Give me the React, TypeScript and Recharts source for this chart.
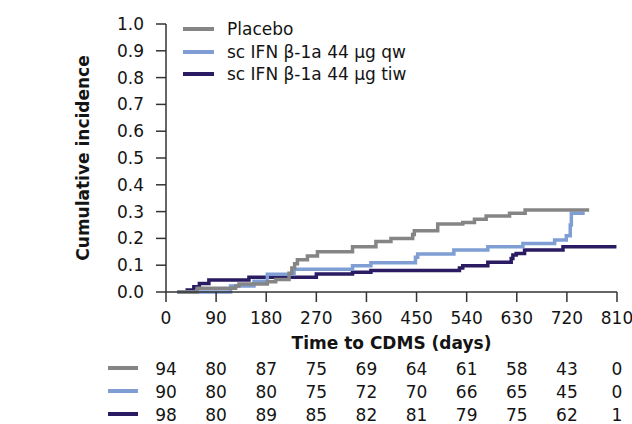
import { ComposedChart, Label, Legend, Line, XAxis, YAxis } from "recharts";

const dayTicks = [0, 90, 180, 270, 360, 450, 540, 630, 720, 810];
const incidenceTicks = [0, 0.1, 0.2, 0.3, 0.4, 0.5, 0.6, 0.7, 0.8, 0.9, 1.0];

// step points (day, cumulative incidence)
const placeboDays = [20, 56, 125, 131, 182, 197, 221, 226, 231, 236, 254, 272, 335, 377, 404, 443, 446, 488, 533, 554, 575, 617, 645, 760];
const placeboIncidence = [0, 0.014, 0.022, 0.03, 0.038, 0.047, 0.07, 0.09, 0.105, 0.12, 0.134, 0.15, 0.169, 0.188, 0.2, 0.215, 0.229, 0.254, 0.259, 0.271, 0.284, 0.294, 0.306, 0.306];

const qwDays = [20, 116, 158, 182, 230, 335, 368, 448, 452, 517, 578, 641, 698, 719, 726, 728, 752];
const qwIncidence = [0, 0.022, 0.04, 0.066, 0.085, 0.098, 0.109, 0.13, 0.142, 0.157, 0.169, 0.181, 0.194, 0.21, 0.25, 0.294, 0.294];

const tiwDays = [35, 50, 60, 77, 149, 270, 335, 368, 527, 533, 578, 620, 623, 629, 644, 713, 809];
const tiwIncidence = [0.007, 0.02, 0.032, 0.045, 0.055, 0.067, 0.074, 0.08, 0.09, 0.098, 0.111, 0.125, 0.138, 0.144, 0.157, 0.169, 0.169];

const placeboAtRisk = [94, 80, 87, 75, 69, 64, 61, 58, 43, 0];
const qwAtRisk = [90, 80, 80, 75, 72, 70, 66, 65, 45, 0];
const tiwAtRisk = [98, 80, 89, 85, 82, 81, 79, 75, 62, 1];

const GRAY = "#858585";
const LIGHT = "#7f9fd4";
const NAVY = "#2a1b62";
const INK = "#141414";
const AXIS = "#333333";
const FONT = "'DejaVu Sans', Verdana, sans-serif";

const series = [
  { key: "tiw", name: "sc IFN β-1a 44 µg tiw", color: NAVY, days: tiwDays, values: tiwIncidence },
  { key: "qw", name: "sc IFN β-1a 44 µg qw", color: LIGHT, days: qwDays, values: qwIncidence },
  { key: "placebo", name: "Placebo", color: GRAY, days: placeboDays, values: placeboIncidence },
];

const riskRows = [
  { color: GRAY, counts: placeboAtRisk },
  { color: LIGHT, counts: qwAtRisk },
  { color: NAVY, counts: tiwAtRisk },
];

const legendItems = [
  { name: "Placebo", color: GRAY },
  { name: "sc IFN β-1a 44 µg qw", color: LIGHT },
  { name: "sc IFN β-1a 44 µg tiw", color: NAVY },
];

function toPoints(days: number[], values: number[]) {
  return days.map((day, i) => ({ day, value: values[i] }));
}

function RiskTick(props: any) {
  const { x, y, payload, row } = props;
  const idx = dayTicks.indexOf(payload.value);
  const info = riskRows[row];
  return (
    <g>
      {idx === 0 && (
        <line x1={x - 58} x2={x - 28} y1={y + 14} y2={y + 14} stroke={info.color} strokeWidth={4} />
      )}
      <text x={x} y={y + 21} textAnchor="middle" fontSize={17} fontFamily={FONT} fill={INK}>
        {info.counts[idx]}
      </text>
    </g>
  );
}

function ChartLegend() {
  return (
    <div style={{ fontFamily: FONT, fontSize: 17, color: INK }}>
      {legendItems.map((item) => (
        <div key={item.name} style={{ display: "flex", alignItems: "center", height: 22.5, whiteSpace: "nowrap" }}>
          <span style={{ display: "inline-block", width: 31, height: 4, background: item.color, marginRight: 13 }} />
          <span>{item.name}</span>
        </div>
      ))}
    </div>
  );
}

export default function App() {
  return (
    <div style={{ position: "absolute", left: 0, top: 0, width: 632, height: 424, background: "#fff" }}>
      <ComposedChart width={632} height={424} margin={{ top: 24, right: 15, left: 1, bottom: 1 }}>
        <XAxis
          xAxisId="axis0"
          type="number"
          dataKey="day"
          domain={[0, 810]}
          ticks={dayTicks}
          interval={0}
          allowDataOverflow
          height={62}
          stroke={AXIS}
          strokeWidth={1.5}
          tickSize={10}
          tickMargin={10}
          tick={{ fill: INK, fontSize: 17, fontFamily: FONT }}
        >
          <Label
            value="Time to CDMS (days)"
            position="insideBottom"
            offset={5}
            style={{ fill: INK, fontSize: 17, fontWeight: "bold", fontFamily: FONT }}
          />
        </XAxis>
        {riskRows.map((_, row) => (
          <XAxis
            key={row}
            xAxisId={`axis${row + 1}`}
            type="number"
            dataKey="day"
            domain={[0, 810]}
            ticks={dayTicks}
            interval={0}
            allowDataOverflow
            height={23}
            axisLine={false}
            tickLine={false}
            tickSize={0}
            tickMargin={0}
            tick={<RiskTick row={row} />}
          />
        ))}
        <YAxis
          type="number"
          domain={[0, 1]}
          ticks={incidenceTicks}
          interval={0}
          width={165}
          stroke={AXIS}
          strokeWidth={1.5}
          tickSize={10}
          tickMargin={12}
          tickFormatter={(v: number) => v.toFixed(1)}
          tick={{ fill: INK, fontSize: 17, fontFamily: FONT }}
        >
          <Label
            content={({ viewBox }: any) => {
              const cx = viewBox.x + 82;
              const cy = viewBox.y + viewBox.height / 2;
              return (
                <text
                  x={cx}
                  y={cy}
                  transform={`rotate(-90 ${cx} ${cy})`}
                  textAnchor="middle"
                  dominantBaseline="central"
                  fontSize={17}
                  fontWeight="bold"
                  fontFamily={FONT}
                  fill={INK}
                >
                  Cumulative incidence
                </text>
              );
            }}
          />
        </YAxis>
        <Legend
          layout="vertical"
          align="center"
          verticalAlign="middle"
          content={() => <ChartLegend />}
          wrapperStyle={{ position: "absolute", left: 183, top: 18, width: "auto", height: "auto" }}
        />
        {series.map((s) => (
          <Line
            key={s.key}
            xAxisId="axis0"
            data={toPoints(s.days, s.values)}
            dataKey="value"
            name={s.name}
            type="stepAfter"
            stroke={s.color}
            strokeWidth={3.5}
            dot={false}
            activeDot={false}
            isAnimationActive={false}
          />
        ))}
      </ComposedChart>
    </div>
  );
}
